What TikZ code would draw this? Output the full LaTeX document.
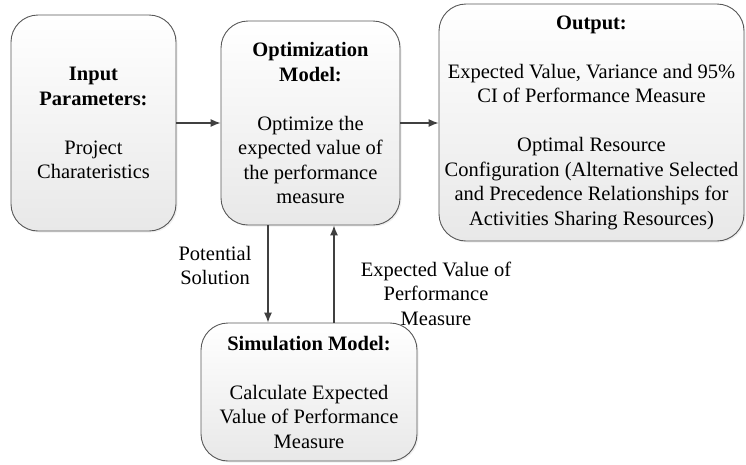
\documentclass[tikz,border=0pt]{standalone}
\usepackage{fontspec}
\setmainfont{Liberation Serif}
\usetikzlibrary{arrows.meta,shadows}
\begin{document}
\begin{tikzpicture}[x=1pt,y=-1pt,
  box/.style={draw=black!65, line width=0.9pt, rounded corners=27pt,
    top color=white, bottom color=black!9, align=center, inner sep=0pt,
    drop shadow={opacity=0.12, shadow xshift=1.5pt, shadow yshift=-1.5pt},
    font=\fontsize{20.5}{24.5}\selectfont, text=black},
  lbl/.style={align=center, font=\fontsize{20.5}{24.5}\selectfont, text=black, inner sep=0pt},
  arr/.style={draw=black!75, line width=1.1pt, -{Latex[length=10pt,width=8pt]}}]
\useasboundingbox (0,0) rectangle (746,464);
\node[box, minimum width=165pt, minimum height=216pt] (inp) at (93.5,123)
  {\textbf{Input}\\\textbf{Parameters:}\\[24.5pt]Project\\Charateristics};
\node[box, minimum width=179pt, minimum height=204pt] (opt) at (310.5,123)
  {\textbf{Optimization}\\\textbf{Model:}\\[24.5pt]Optimize the\\expected value of\\the performance\\measure};
\node[box, minimum width=305pt, minimum height=237pt] (out) at (591.5,122.5)
  {\textbf{Output:}\\[24.5pt]Expected Value, Variance and 95\%\\CI of Performance Measure\\[24.5pt]Optimal Resource\\Configuration (Alternative Selected\\and Precedence Relationships for\\Activities Sharing Resources)};
\node[box, minimum width=216pt, minimum height=138pt] (sim) at (309,392)
  {\textbf{Simulation Model:}\\[24.5pt]Calculate Expected\\Value of Performance\\Measure};
\coordinate (dx) at (268,0);
\coordinate (ux) at (334,0);
\draw[arr] (inp.east) -- (opt.west);
\draw[arr] (opt.east) -- (out.west |- opt.east);
\draw[arr] (opt.south -| dx) -- (sim.north -| dx);
\draw[arr] (sim.north -| ux) -- (opt.south -| ux);
\node[lbl] (ps) at (215,265.5) {Potential\\Solution};
\node[lbl] (ev) at (436,293.5) {Expected Value of\\Performance\\Measure};
\end{tikzpicture}
\end{document}
